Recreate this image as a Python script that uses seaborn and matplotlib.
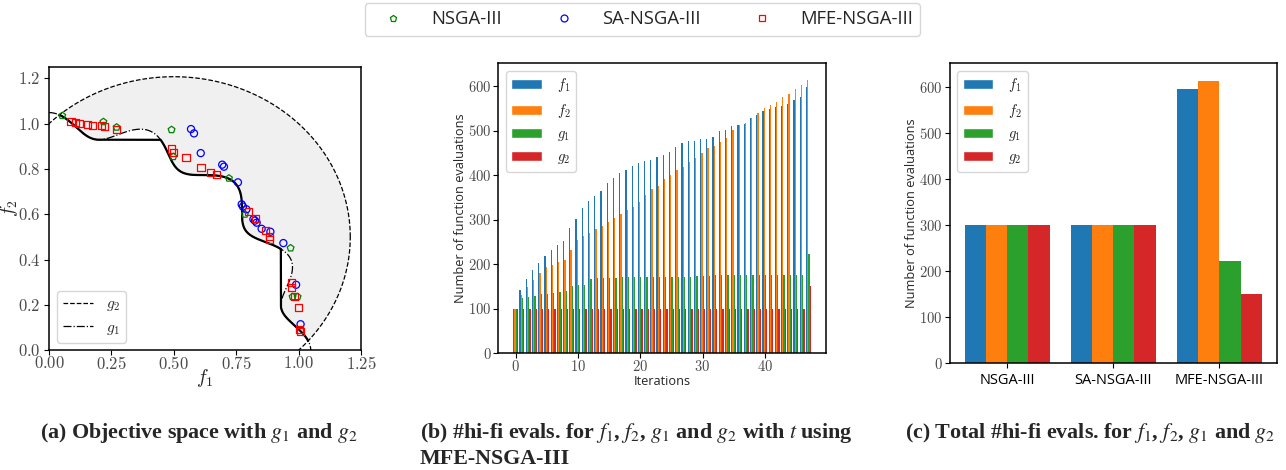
import numpy as np
import pandas as pd
import matplotlib
matplotlib.use("Agg")
import matplotlib.pyplot as plt
import seaborn as sns
from matplotlib.lines import Line2D
from matplotlib.patches import Patch
from matplotlib.ticker import FuncFormatter, FixedLocator

# ---------------- data ----------------
# (a) final populations in objective space
nsga_f1 = [0.053, 0.218, 0.271, 0.491, 0.498, 0.721, 0.785, 0.968, 0.976, 0.996]
nsga_f2 = [1.035, 1.008, 0.984, 0.973, 0.854, 0.759, 0.600, 0.451, 0.236, 0.236]

sa_f1 = [0.569, 0.581, 0.608, 0.694, 0.701, 0.757, 0.772, 0.777, 0.791, 0.819,
         0.825, 0.832, 0.852, 0.887, 0.939, 0.990, 1.008]
sa_f2 = [0.976, 0.957, 0.870, 0.819, 0.810, 0.741, 0.644, 0.634, 0.622, 0.578,
         0.572, 0.563, 0.536, 0.523, 0.473, 0.289, 0.115]

mfe_f1 = [0.088, 0.108, 0.123, 0.156, 0.176, 0.210, 0.223, 0.270, 0.490, 0.500,
          0.549, 0.609, 0.646, 0.672, 0.799, 0.828, 0.869, 0.883, 0.885, 0.970,
          0.971, 0.982, 1.000, 1.004, 1.008]
mfe_f2 = [1.011, 1.003, 1.001, 0.997, 0.993, 0.993, 0.986, 0.976, 0.888, 0.873,
          0.850, 0.807, 0.786, 0.775, 0.611, 0.582, 0.528, 0.504, 0.487, 0.300,
          0.276, 0.236, 0.188, 0.093, 0.082]

# TNK constraint definitions (boundaries drawn in panel a)
g1_amp = 0.1
g1_freq = 16
g2_center = 0.5
g2_radius_sq = 0.5

# (b) cumulative hi-fi evaluations per iteration (MFE-NSGA-III)
iterations = list(range(48))
f1_evals = [100, 142, 167, 187, 203, 218, 233, 243, 253, 281, 301, 326, 342, 353, 364, 382,
            393, 405, 411, 420, 427, 432, 434, 441, 445, 452, 463, 472, 477, 477, 481, 481,
            485, 499, 501, 510, 512, 515, 528, 535, 543, 548, 553, 555, 560, 569, 575, 597]
f2_evals = [100, 131, 149, 165, 180, 194, 198, 205, 209, 232, 254, 263, 270, 279, 286, 295,
            304, 313, 321, 328, 340, 355, 369, 376, 391, 401, 411, 418, 429, 438, 450, 461,
            465, 474, 483, 501, 512, 517, 528, 539, 551, 557, 564, 575, 582, 593, 602, 613]
g1_evals = [100, 124, 126, 129, 133, 134, 135, 138, 140, 151, 153, 154, 167, 169, 169, 169,
            169, 171, 171, 171, 171, 171, 171, 171, 171, 171, 171, 171, 171, 173, 173, 173,
            175, 176, 176, 176, 176, 176, 176, 176, 176, 176, 176, 176, 176, 176, 176, 223]
g2_evals = [100, 100, 100, 100, 100, 100, 100, 100, 100, 100, 100, 100, 100, 100, 100, 100,
            100, 100, 100, 100, 100, 100, 100, 100, 100, 100, 100, 100, 100, 100, 100, 100,
            100, 100, 100, 100, 100, 100, 100, 100, 100, 100, 100, 100, 100, 100, 100, 151]

# (c) total hi-fi evaluations
algorithms = ["NSGA-III", "SA-NSGA-III", "MFE-NSGA-III"]
total_f1 = [300, 300, 597]
total_f2 = [300, 300, 613]
total_g1 = [300, 300, 223]
total_g2 = [300, 300, 151]

func_labels = ["$f_1$", "$f_2$", "$g_1$", "$g_2$"]
palette = ["#1f77b4", "#ff7f0e", "#2ca02c", "#d62728"]

# ---------------- style ----------------
sns.set_theme(style="ticks", rc={
    "axes.edgecolor": "black",
    "axes.linewidth": 1.1,
    "xtick.color": "black",
    "ytick.color": "black",
    "xtick.major.size": 3.5,
    "ytick.major.size": 3.5,
    "xtick.major.width": 0.8,
    "ytick.major.width": 0.8,
})
plt.rcParams["font.family"] = ["Open Sans", "DejaVu Sans"]
plt.rcParams["mathtext.fontset"] = "cm"

fig = plt.figure(figsize=(12.86, 4.70), dpi=100)

tick_col = "#4a4a4a"

# ---------------- (a) ----------------
axA = fig.add_axes([0.0381, 0.2547, 0.2426, 0.6028])
phi = np.linspace(0, np.pi / 2, 8001)
s_c = np.sin(phi) + np.cos(phi)
r_g1 = np.sqrt(1 + g1_amp * np.cos(g1_freq * phi))
gx, gy = r_g1 * np.sin(phi), r_g1 * np.cos(phi)
# outer intersection of the ray with the g2 circle
r_c = g2_center * s_c + np.sqrt((g2_center * s_c) ** 2 - 2 * g2_center ** 2 + g2_radius_sq)
feas = r_g1 <= r_c
poly_x = np.concatenate([gx[feas], (r_c * np.sin(phi))[feas][::-1]])
poly_y = np.concatenate([gy[feas], (r_c * np.cos(phi))[feas][::-1]])
axA.fill(poly_x, poly_y, color="#f0f0f0", lw=0, zorder=0)

theta = np.linspace(0, 2 * np.pi, 1441)
cx = g2_center + np.sqrt(g2_radius_sq) * np.cos(theta)
cy = g2_center + np.sqrt(g2_radius_sq) * np.sin(theta)
axA.plot(cx, cy, color="black", ls="--", lw=0.9, label="$g_2$", zorder=1)
axA.plot(gx, gy, color="black", ls="-.", lw=0.9, label="$g_1$", zorder=1)

fx, fy = gx[feas], gy[feas]
order = np.argsort(fx)
sx = fx[order]
sy = np.minimum.accumulate(fy[order])
axA.plot(sx, sy, color="black", lw=1.6, zorder=2)

for xs, ys, mk, col in [(nsga_f1, nsga_f2, "p", "green"),
                        (sa_f1, sa_f2, "o", "blue"),
                        (mfe_f1, mfe_f2, "s", "red")]:
    sns.scatterplot(x=xs, y=ys, ax=axA, marker=mk, s=26, linewidth=0.9,
                    legend=False, zorder=3)
    coll = axA.collections[-1]
    coll.set_facecolor("none")
    coll.set_edgecolor(col)

axA.set_xlim(0, 1.25)
axA.set_ylim(0, 1.25)
axA.xaxis.set_major_locator(FixedLocator([0, 0.25, 0.5, 0.75, 1.0, 1.25]))
axA.yaxis.set_major_locator(FixedLocator([0, 0.2, 0.4, 0.6, 0.8, 1.0, 1.2]))
axA.xaxis.set_major_formatter(FuncFormatter(lambda v, p: f"${v:.2f}$"))
axA.yaxis.set_major_formatter(FuncFormatter(lambda v, p: f"${v:.1f}$"))
axA.tick_params(labelsize=12, labelcolor=tick_col, pad=2.5)
axA.tick_params(axis="x", pad=0.8)
axA.set_xlabel("$f_1$", fontsize=14)
axA.set_ylabel("$f_2$", fontsize=14)
axA.xaxis.set_label_coords(0.5, -0.058)
axA.yaxis.set_label_coords(-0.094, 0.5)
axA.legend(loc="lower left", fontsize=11, handlelength=2.0, borderaxespad=0.5)

# ---------------- (b) ----------------
axB = fig.add_axes([0.3875, 0.2483, 0.2546, 0.6170])
df_b = pd.DataFrame({
    "iteration": iterations * 4,
    "evals": f1_evals + f2_evals + g1_evals + g2_evals,
    "func": sum([[lab] * len(iterations) for lab in func_labels], []),
})
sns.barplot(data=df_b, x="iteration", y="evals", hue="func", hue_order=func_labels,
            palette=palette, native_scale=True, saturation=1, errorbar=None,
            legend=False, width=0.8, linewidth=0, ax=axB)
axB.set_xlim(-2.79, 49.79)
axB.set_ylim(0, 651)
axB.xaxis.set_major_locator(FixedLocator([0, 10, 20, 30, 40]))
axB.yaxis.set_major_locator(FixedLocator([0, 100, 200, 300, 400, 500, 600]))
axB.xaxis.set_major_formatter(FuncFormatter(lambda v, p: f"${v:.0f}$"))
axB.yaxis.set_major_formatter(FuncFormatter(lambda v, p: f"${v:.0f}$"))
axB.tick_params(labelsize=10.5, labelcolor=tick_col, pad=1.5)
axB.set_xlabel("Iterations", fontsize=9.2, labelpad=0)
axB.set_ylabel("Number of function evaluations", fontsize=9.2, labelpad=1)
handles = [Patch(facecolor=c, label=l) for c, l in zip(palette, func_labels)]
axB.legend(handles=handles, loc="upper left", fontsize=10.5, handlelength=2.1,
           handletextpad=1.0, borderaxespad=0.5)

# ---------------- (c) ----------------
axC = fig.add_axes([0.7385, 0.2270, 0.2543, 0.6383])
df_c = pd.DataFrame({
    "algorithm": algorithms * 4,
    "evals": total_f1 + total_f2 + total_g1 + total_g2,
    "func": sum([[lab] * len(algorithms) for lab in func_labels], []),
})
sns.barplot(data=df_c, x="algorithm", y="evals", hue="func", hue_order=func_labels,
            palette=palette, saturation=1, errorbar=None, legend=False,
            width=0.8, linewidth=0, ax=axC)
axC.set_xlim(-0.54, 2.54)
axC.set_ylim(0, 652)
axC.yaxis.set_major_locator(FixedLocator([0, 100, 200, 300, 400, 500, 600]))
axC.yaxis.set_major_formatter(FuncFormatter(lambda v, p: f"${v:.0f}$"))
axC.tick_params(axis="y", labelsize=10.5, labelcolor=tick_col, pad=1.5)
axC.tick_params(axis="x", labelsize=10.5, labelcolor="black")
axC.set_xlabel("")
axC.set_ylabel("Number of function evaluations", fontsize=9.2, labelpad=1)
handles = [Patch(facecolor=c, label=l) for c, l in zip(palette, func_labels)]
axC.legend(handles=handles, loc="upper left", fontsize=10.5, handlelength=2.1,
           handletextpad=1.0, borderaxespad=0.5)

# ---------------- top legend ----------------
top_handles = [
    Line2D([], [], ls="none", marker="p", mfc="none", mec="green", ms=5, mew=0.9, label="NSGA-III"),
    Line2D([], [], ls="none", marker="o", mfc="none", mec="blue", ms=5, mew=0.9, label="SA-NSGA-III"),
    Line2D([], [], ls="none", marker="s", mfc="none", mec="red", ms=5, mew=0.9, label="MFE-NSGA-III"),
]
fig.legend(handles=top_handles, loc="upper center", bbox_to_anchor=(0.4996, 0.9936),
           ncol=3, fontsize=13.3, handlelength=2.3, handletextpad=0.9, columnspacing=2.2,
           borderaxespad=0, frameon=True)

# ---------------- captions ----------------
cap_kw = dict(fontfamily=["Liberation Serif", "DejaVu Serif"], fontweight="bold",
              fontsize=15.8, math_fontfamily="stix", va="baseline", ha="left")
fig.text(40 / 1286, (470 - 438) / 470, "(a) Objective space with $g_1$ and $g_2$", **cap_kw)
fig.text(420 / 1286, (470 - 438) / 470,
         "(b) #hi-fi evals. for $f_1$, $f_2$, $g_1$ and $g_2$ with $t$ using", **cap_kw)
fig.text(420 / 1286, (470 - 464) / 470, "MFE-NSGA-III", **cap_kw)
fig.text(905 / 1286, (470 - 438) / 470,
         "(c) Total #hi-fi evals. for $f_1$, $f_2$, $g_1$ and $g_2$", **cap_kw)

fig.savefig("out.png", dpi=100)
